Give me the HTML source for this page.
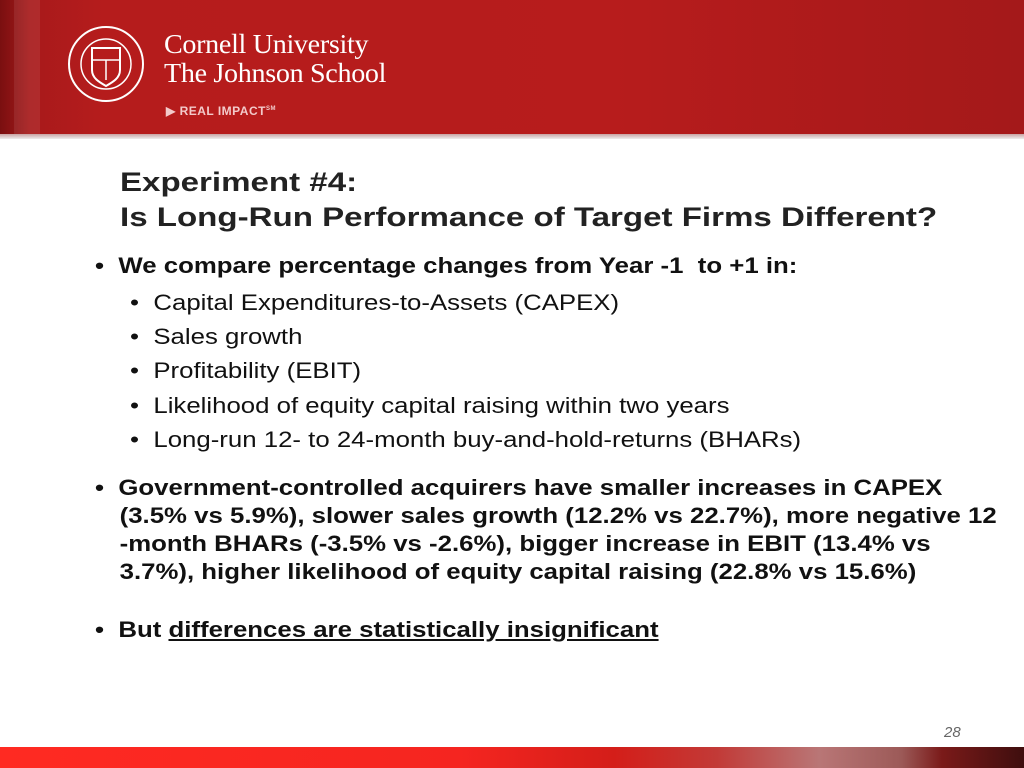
<!DOCTYPE html>
<html><head><meta charset="utf-8"><style>
body{margin:0;width:1024px;height:768px;overflow:hidden;background:#fff;font-family:"Liberation Sans",sans-serif;position:relative}
.hdr{position:absolute;left:0;top:0;width:1024px;height:134px;background:linear-gradient(90deg,#7a0f10 0,#a81a1b 3%,#b51c1c 10%,#b71c1c 60%,#a4191a 100%)}
.stripe{position:absolute;top:0;height:134px}
.hline{position:absolute;left:0;top:134px;width:1024px;height:5px;background:linear-gradient(#c9a3a3,#eee)}
.logo{position:absolute;left:164px;top:30px;color:#fff;font-family:"Liberation Serif",serif;font-size:27px;line-height:29px;letter-spacing:-0.3px;transform:scaleX(1.04);transform-origin:0 0}
.ri{position:absolute;left:166px;top:104px;color:#f3caca;font-size:12px;font-weight:bold;letter-spacing:0.5px}
.title{position:absolute;left:120px;top:165px;font-size:27px;font-weight:bold;color:#222;line-height:35px;transform:scaleX(1.225);transform-origin:0 0;white-space:nowrap}
.t{position:absolute;color:#111;font-size:22px;line-height:28px;transform:scaleX(1.172);transform-origin:0 0;white-space:nowrap}
.b{font-weight:bold}
.foot{position:absolute;left:0;top:747px;width:1024px;height:21px;background:linear-gradient(90deg,#ff2a22 0,#f52520 45%,#d41e19 60%,#c23a37 70%,#b97676 80%,#9c5a58 88%,#7a1a19 92%,#3e0e0e 100%)}
.pg{position:absolute;left:944px;top:724px;font-size:15px;color:#666;font-style:italic}
</style></head><body>
<div class="hdr"></div>
<div class="stripe" style="left:14px;width:26px;background:rgba(255,255,255,0.08)"></div>
<svg style="position:absolute;left:66px;top:24px" width="80" height="80">
<circle cx="40" cy="40" r="37" fill="none" stroke="#fff" stroke-width="2"/>
<circle cx="40" cy="40" r="25" fill="none" stroke="#fff" stroke-width="1.5"/>
<path d="M26 24h28v22c0 8-7 12-14 16-7-4-14-8-14-16z" fill="none" stroke="#fff" stroke-width="2"/>
<line x1="26" y1="36" x2="54" y2="36" stroke="#fff" stroke-width="1.5"/>
<line x1="40" y1="36" x2="40" y2="56" stroke="#fff" stroke-width="1.5"/>
</svg>
<div class="logo">Cornell University<br>The Johnson School</div>
<div class="ri">▶ REAL IMPACT<sup style="font-size:6px">SM</sup></div>
<div class="hline"></div>
<div class="title">Experiment #4:<br>Is Long-Run Performance of Target Firms Different?</div>
<div class="t b" style="left:95px;top:252px">• &nbsp;We compare percentage changes from Year -1 &nbsp;to +1 in:</div>
<div class="t" style="left:130px;top:286px;line-height:34.2px">•&nbsp; Capital Expenditures-to-Assets (CAPEX)<br>•&nbsp; Sales growth<br>•&nbsp; Profitability (EBIT)<br>•&nbsp; Likelihood of equity capital raising within two years<br>•&nbsp; Long-run 12- to 24-month buy-and-hold-returns (BHARs)</div>
<div class="t b" style="left:95px;top:474px">• &nbsp;Government-controlled acquirers have smaller increases in CAPEX<br><span style="padding-left:21px">(3.5% vs 5.9%), slower sales growth (12.2% vs 22.7%), more negative 12</span><br><span style="padding-left:21px">-month BHARs (-3.5% vs -2.6%), bigger increase in EBIT (13.4% vs</span><br><span style="padding-left:21px">3.7%), higher likelihood of equity capital raising (22.8% vs 15.6%)</span></div>
<div class="t b" style="left:95px;top:616px">• &nbsp;But <u>differences are statistically insignificant</u></div>
<div class="pg">28</div>
<div class="foot"></div>
</body></html>
